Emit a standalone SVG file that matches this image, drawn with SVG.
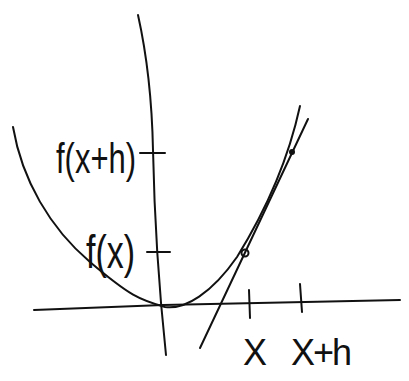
<svg xmlns="http://www.w3.org/2000/svg" width="409" height="381" viewBox="0 0 409 381">
<style>
.s{fill:none;stroke:#111;stroke-width:2;stroke-linecap:round;stroke-linejoin:round}
.t{font-family:"Liberation Sans",Arial,sans-serif;fill:#111}
</style>
<rect width="409" height="381" fill="#fff"/>
<g id="axes">
<path class="s" d="M138,15 C148,60 152,100 153,150 S158,280 166,355"/>
<path class="s" d="M34,310 L163,305 L400,300"/>
</g>
<g id="curve">
<path class="s" d="M13,127 C22,180 50,228 90,262 S140,300 165,307 C185,310 212,293 237,257 C255,228 285,175 300,106"/>
</g>
<g id="secant">
<path class="s" d="M200,348 L308,119"/>
<circle cx="245" cy="253" r="3.5" class="s"/>
<circle cx="292" cy="152" r="3" fill="#111"/>
</g>
<g id="ticks">
<path class="s" d="M140,153 L165,153"/>
<path class="s" d="M147,252 L170,252"/>
<path class="s" d="M249,290 L250,318"/>
<path class="s" d="M300,284 L302,312"/>
</g>
<g id="labels">
<text class="t" transform="translate(56,173) scale(1,1.35)" font-size="31">f(x+h)</text>
<text class="t" transform="translate(86,268) scale(1,1.35)" font-size="34">f(x)</text>
<text class="t" x="243" y="365" font-size="36">X</text>
<text class="t" x="291" y="365" font-size="36" letter-spacing="-2">X+h</text>
</g>
</svg>
